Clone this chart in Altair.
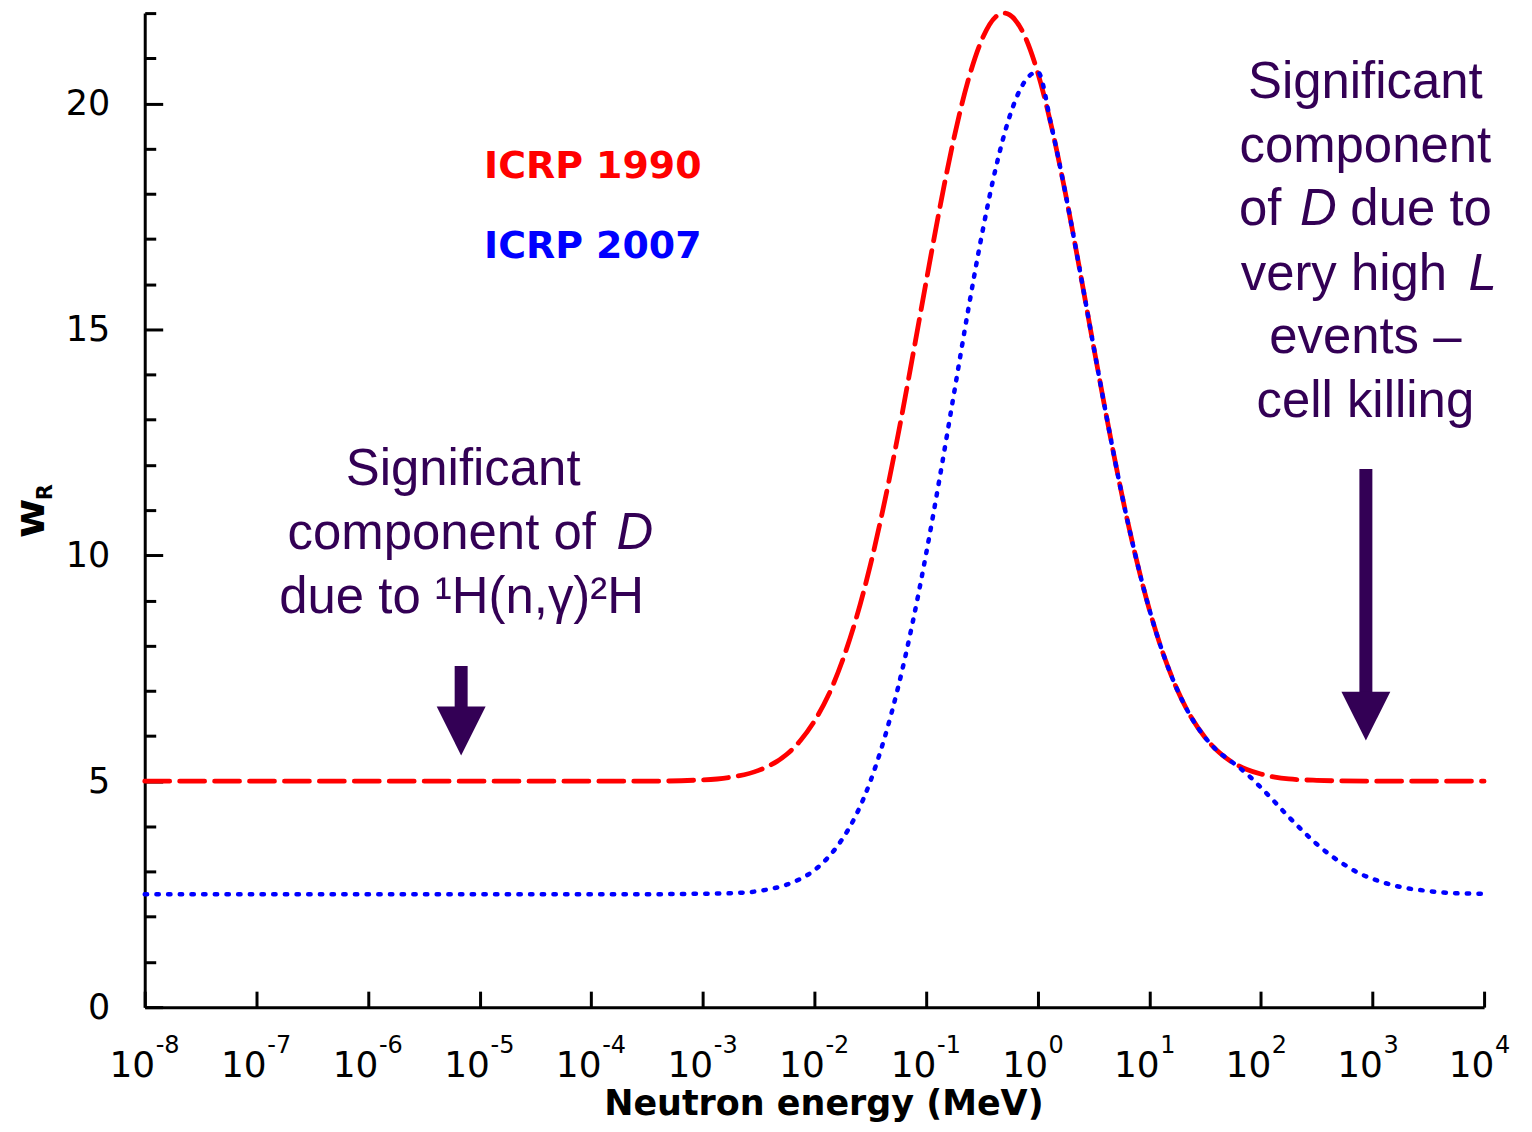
import altair as alt
import pandas as pd

# ---- data ----
logE_1990 = [-8, -6, -4, -3.5, -3, -2.75, -2.5, -2.25, -2.125, -2, -1.875, -1.75, -1.625, -1.5,
             -1.375, -1.25, -1.125, -1, -0.875, -0.75, -0.625, -0.5, -0.375, -0.3, -0.25, -0.125,
             0, 0.125, 0.25, 0.375, 0.5, 0.625, 0.75, 0.875, 1, 1.125, 1.25, 1.375, 1.5, 1.625,
             1.75, 1.875, 2, 2.125, 2.25, 2.5, 3, 4]
wR_1990 = [5.0, 5.0, 5.0, 5.0, 5.03, 5.09, 5.24, 5.59, 5.90, 6.33, 6.90, 7.66, 8.61, 9.77,
           11.14, 12.67, 14.33, 16.04, 17.71, 19.23, 20.49, 21.41, 21.92, 22.0, 21.96, 21.54,
           20.69, 19.48, 18.0, 16.35, 14.64, 12.97, 11.40, 10.01, 8.81, 7.82, 7.03, 6.42, 5.97, 5.64,
           5.41, 5.26, 5.16, 5.09, 5.05, 5.02, 5.0, 5.0]

logE_2007 = [-8, -6, -4, -3.5, -3, -2.75, -2.5, -2.25, -2.125, -2, -1.875, -1.75, -1.625, -1.5,
             -1.375, -1.25, -1.125, -1, -0.875, -0.75, -0.625, -0.5, -0.375, -0.25, -0.125, 0,
             0.125, 0.25, 0.375, 0.5, 0.625, 0.75, 0.875, 1, 1.125, 1.25, 1.375, 1.5, 1.625, 1.7,
             1.75, 1.875, 2, 2.125, 2.25, 2.375, 2.5, 2.625, 2.75, 2.875, 3, 3.25, 3.5, 3.75, 4]
wR_2007 = [2.5, 2.5, 2.5, 2.5, 2.51, 2.52, 2.57, 2.71, 2.84, 3.03, 3.32, 3.72, 4.26, 4.99,
           5.93, 7.08, 8.45, 10.02, 11.75, 13.57, 15.39, 17.09, 18.57, 19.72, 20.45, 20.7,
           19.48, 18.0, 16.35, 14.64, 12.97, 11.40, 10.01, 8.81, 7.82, 7.03, 6.42, 5.97, 5.64, 5.50,
           5.41, 5.16, 4.86, 4.54, 4.21, 3.90, 3.61, 3.36, 3.15, 2.97, 2.84, 2.66, 2.57, 2.52, 2.51]

# x tick labels: "10" with an exponent drawn as superscript
x_ticks_log = list(range(-8, 5))
x_exponents = ["-8", "-7", "-6", "-5", "-4", "-3", "-2", "-1", "0", "1", "2", "3", "4"]
exponent_w = -1.02          # superscript baseline, in wR units below the axis
y_ticks = list(range(0, 23))

# annotation text (purple)
ann_text = ["Significant", "component", "of", "D", "due to", "very high", "L", "events \u2013", "cell killing",
            "Significant", "component of", "D", "due to \u00b9H(n,\u03b3)\u00b2H"]
ann_logE = [2.936, 2.936, 2.185, 2.516, 2.802, 3.669, 3.987, 2.936, 2.936,
            -5.147, -3.958, -3.609, -5.161]
ann_w = [20.12, 18.71, 17.30, 17.30, 17.30, 15.88, 15.88, 14.47, 13.06,
         11.55, 10.14, 10.14, 8.73]
ann_align = ["center", "center", "right", "center", "left", "right", "center", "center", "center",
             "center", "right", "center", "center"]
ann_style = ["normal", "normal", "normal", "italic", "normal", "normal", "italic", "normal", "normal",
             "normal", "normal", "italic", "normal"]

legend_text = ["ICRP 1990", "ICRP 2007"]
legend_logE = [-4.96, -4.96]
legend_w = [18.36, 16.59]
legend_color = ["#ff0000", "#0000ff"]

# arrows: shaft top, shaft bottom, head centre
arrow_logE = [-5.165, 2.941]
arrow_top = [7.55, 11.91]
arrow_bottom = [6.50, 6.80]
arrow_head = [6.11, 6.44]

PURPLE = "#330055"

# ---- scales / axes ----
xscale = alt.Scale(type="log", domain=[1e-8, 1e4], nice=False)
yscale = alt.Scale(domain=[0, 22], nice=False, zero=True)

xaxis = alt.Axis(values=[10.0 ** p for p in x_ticks_log], labelExpr="'10'", labelOffset=-13,
                 tickSize={"expr": "-16"}, tickWidth=3, tickColor="black",
                 domainWidth=3, domainColor="black", grid=False,
                 labelFont="DejaVu Sans", labelFontSize=36, labelColor="black",
                 labelPadding=86, labelBaseline="alphabetic", labelFlush=False, labelOverlap=False,
                 title="Neutron energy (MeV)", titleFont="DejaVu Sans", titleFontWeight="bold",
                 titleFontSize=35, titleColor="black", titleX=680, titleY=108,
                 titleBaseline="alphabetic")
yaxis = alt.Axis(values=y_ticks, labelExpr="datum.value % 5 === 0 ? datum.label : ''",
                 tickSize={"expr": "datum.value % 5 === 0 ? -18 : -11"}, tickWidth=3,
                 tickColor="black", domainWidth=3, domainColor="black", grid=False,
                 labelFont="DejaVu Sans", labelFontSize=35, labelColor="black",
                 labelPadding=53, labelOverlap=False, labelFlush=False, title=None)

x_enc = alt.X("E:Q", scale=xscale, axis=xaxis)
y_enc = alt.Y("w:Q", scale=yscale, axis=yaxis)

df90 = pd.DataFrame({"E": [10.0 ** v for v in logE_1990], "w": wR_1990})
df07 = pd.DataFrame({"E": [10.0 ** v for v in logE_2007], "w": wR_2007})

red = alt.Chart(df90).mark_line(color="#ff0000", strokeWidth=4.8, strokeDash=[25, 10],
                                strokeCap="round", interpolate="monotone").encode(x=x_enc, y=y_enc)
blue = alt.Chart(df07).mark_line(color="#0000ff", strokeWidth=4.5, strokeDash=[2.4, 9.3],
                                 strokeCap="round", interpolate="monotone").encode(x=x_enc, y=y_enc)

layers = [red, blue]

# superscript exponents of the x tick labels
ex = pd.DataFrame({"E": [10.0 ** p for p in x_ticks_log], "w": [exponent_w] * len(x_ticks_log),
                   "t": x_exponents})
layers.append(alt.Chart(ex).mark_text(align="left", baseline="alphabetic", dx=11,
                                      font="DejaVu Sans", fontSize=24, color="black")
              .encode(x=x_enc, y=y_enc, text="t:N"))

# legend texts
for t, le, w, c in zip(legend_text, legend_logE, legend_w, legend_color):
    d = pd.DataFrame({"E": [10.0 ** le], "w": [w], "t": [t]})
    layers.append(alt.Chart(d).mark_text(align="left", baseline="alphabetic", font="DejaVu Sans",
                                         fontSize=38, fontWeight="bold", color=c)
                  .encode(x=x_enc, y=y_enc, text="t:N"))

# annotations
ann = pd.DataFrame({"E": [10.0 ** v for v in ann_logE], "w": ann_w, "t": ann_text,
                    "align": ann_align, "style": ann_style})
for (al, st), g in ann.groupby(["align", "style"]):
    layers.append(alt.Chart(g[["E", "w", "t"]]).mark_text(align=al, baseline="alphabetic",
                                                          font="Liberation Sans", fontSize=51,
                                                          fontStyle=st, color=PURPLE)
                  .encode(x=x_enc, y=y_enc, text="t:N"))

# arrows
arr = pd.DataFrame({"E": [10.0 ** v for v in arrow_logE], "w": arrow_top, "w2": arrow_bottom})
layers.append(alt.Chart(arr).mark_rule(color=PURPLE, strokeWidth=13, strokeCap="butt")
              .encode(x=x_enc, y=y_enc, y2="w2:Q"))
heads = pd.DataFrame({"E": [10.0 ** v for v in arrow_logE], "w": arrow_head})
layers.append(alt.Chart(heads).mark_point(shape="M-1,-1L1,-1L0,1Z", size=2400, filled=True,
                                          color=PURPLE, opacity=1, strokeWidth=0)
              .encode(x=x_enc, y=y_enc))

# y-axis title w_R
wt = pd.DataFrame({"w": [10.38], "t": ["w"]})
layers.append(alt.Chart(wt).mark_text(align="left", baseline="alphabetic", angle=270,
                                      font="DejaVu Sans", fontSize=43, fontWeight="bold",
                                      color="black")
              .encode(x=alt.value(-101), y=y_enc, text="t:N"))
rt = pd.DataFrame({"w": [11.22], "t": ["R"]})
layers.append(alt.Chart(rt).mark_text(align="left", baseline="alphabetic", angle=270,
                                      font="DejaVu Sans", fontSize=21, fontWeight="bold",
                                      color="black")
              .encode(x=alt.value(-93), y=y_enc, text="t:N"))

chart = alt.layer(*layers).properties(
    width=1342, height=996,
    background="white",
    autosize=alt.AutoSizeParams(type="none"),
    padding={"left": 137, "top": 4, "right": 40, "bottom": 120},
).configure_view(stroke=None, strokeWidth=0)

chart.save("out.html", embed_options={"renderer": "svg", "actions": False})
